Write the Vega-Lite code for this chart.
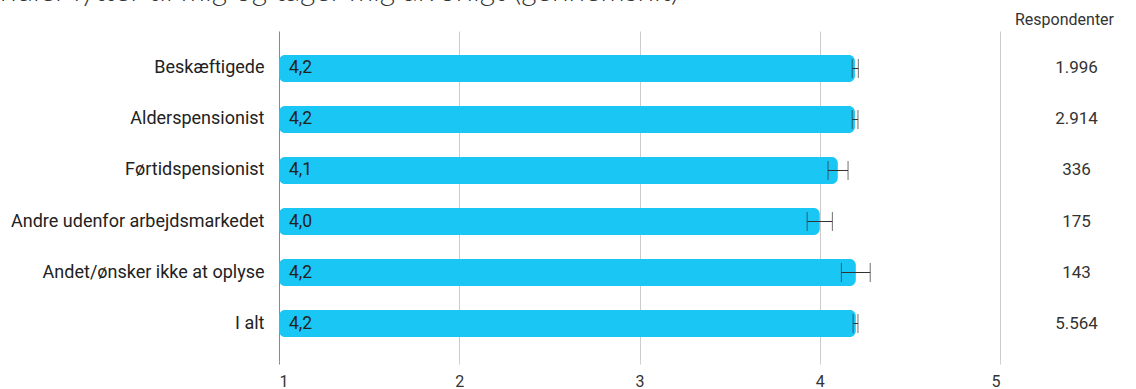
{
  "$schema": "https://vega.github.io/schema/vega-lite/v6.json",
  "background": "white",
  "padding": {"left": 0, "top": -24, "right": 0, "bottom": 0},
  "datasets": {
    "d": [
      {"group": "Beskæftigede", "mean": 4.195, "lo": 4.18, "hi": 4.214, "label": "4,2", "n": "1.996"},
      {"group": "Alderspensionist", "mean": 4.195, "lo": 4.18, "hi": 4.212, "label": "4,2", "n": "2.914"},
      {"group": "Førtidspensionist", "mean": 4.1, "lo": 4.046, "hi": 4.157, "label": "4,1", "n": "336"},
      {"group": "Andre udenfor arbejdsmarkedet", "mean": 4.0, "lo": 3.93, "hi": 4.07, "label": "4,0", "n": "175"},
      {"group": "Andet/ønsker ikke at oplyse", "mean": 4.2, "lo": 4.12, "hi": 4.28, "label": "4,2", "n": "143"},
      {"group": "I alt", "mean": 4.2, "lo": 4.185, "hi": 4.212, "label": "4,2", "n": "5.564"}
    ]
  },
  "title": {
    "text": "ndler lytter til mig og tager mig alvorligt (gennemsnit)",
    "anchor": "start",
    "frame": "bounds",
    "font": "Lato",
    "fontWeight": 300,
    "fontSize": 30,
    "color": "#333333",
    "offset": 5.5,
    "dx": -3
  },
  "spacing": 0,
  "bounds": "flush",
  "resolve": {"scale": {"y": "independent"}},
  "hconcat": [
    {
      "width": 721,
      "height": 330,
      "data": {"name": "d"},
      "encoding": {
        "y": {
          "field": "group", "type": "nominal", "sort": null,
          "scale": {"type": "band", "paddingInner": 0.47, "paddingOuter": 0.47},
          "axis": {
            "title": null, "ticks": false, "domain": false,
            "labelFont": "Roboto", "labelFontSize": 18, "labelColor": "#222222",
            "labelPadding": 15, "labelLimit": 400, "minExtent": 276, "maxExtent": 276
          }
        }
      },
      "layer": [
        {
          "mark": {"type": "bar", "color": "#1AC6F4", "cornerRadiusEnd": 6},
          "encoding": {
            "x": {
              "field": "mean", "type": "quantitative",
              "scale": {"domain": [1, 5], "zero": false, "nice": false},
              "axis": {
                "values": [1, 2, 3, 4, 5], "format": "d", "title": null, "domain": false,
                "grid": true,
                "gridColor": {"condition": {"test": "datum.value == 1", "value": "#888888"}, "value": "#cccccc"},
                "ticks": true, "tickSize": 3,
                "tickColor": {"condition": {"test": "datum.value == 1", "value": "#888888"}, "value": "#cccccc"},
                "labelFont": "Roboto", "labelFontSize": 16, "labelColor": "#333333",
                "labelPadding": 9.5
              }
            },
            "x2": {"datum": 1}
          }
        },
        {
          "mark": {"type": "text", "align": "left", "baseline": "middle", "dx": 10, "font": "Roboto", "fontSize": 17.5, "color": "#222222"},
          "encoding": {"x": {"datum": 1}, "text": {"field": "label"}}
        },
        {
          "mark": {"type": "rule", "color": "#333333", "strokeWidth": 1},
          "encoding": {"x": {"field": "lo", "type": "quantitative"}, "x2": {"field": "hi"}}
        },
        {
          "mark": {"type": "tick", "color": "#333333", "thickness": 1, "size": 19},
          "encoding": {"x": {"field": "lo", "type": "quantitative"}}
        },
        {
          "mark": {"type": "tick", "color": "#333333", "thickness": 1, "size": 19},
          "encoding": {"x": {"field": "hi", "type": "quantitative"}}
        }
      ]
    },
    {
      "width": 135,
      "height": 330,
      "data": {"name": "d"},
      "title": {"text": "Respondenter", "anchor": "middle", "font": "Roboto", "fontSize": 16, "fontWeight": "normal", "color": "#333333", "dx": -3, "offset": 3},
      "mark": {"type": "text", "font": "Roboto", "fontSize": 17, "color": "#333333", "dx": 9, "baseline": "middle"},
      "encoding": {
        "y": {"field": "group", "type": "nominal", "sort": null, "scale": {"type": "band", "paddingInner": 0.47, "paddingOuter": 0.47}, "axis": null},
        "text": {"field": "n"}
      }
    }
  ],
  "config": {"view": {"stroke": null}}
}
